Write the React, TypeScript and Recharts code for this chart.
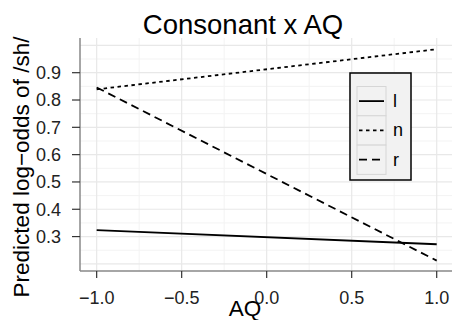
import React from 'react';
import {
  LineChart,
  Line,
  XAxis,
  YAxis,
  ReferenceLine,
  ReferenceArea,
} from 'recharts';

// values
const aqValues = [-1, 1];
const lValues = [0.3235, 0.272];
const nValues = [0.839, 0.986];
const rValues = [0.846, 0.212];

const xTicks = [-1, -0.5, 0, 0.5, 1];
const yTicks = [0.3, 0.4, 0.5, 0.6, 0.7, 0.8, 0.9];
const xMinorGrid = [-0.75, -0.25, 0.25, 0.75];
const yMajorGrid = [0.2, 0.3, 0.4, 0.5, 0.6, 0.7, 0.8, 0.9, 1.0];
const yMinorGrid = [0.25, 0.35, 0.45, 0.55, 0.65, 0.75, 0.85, 0.95];

const series = [
  { key: 'l', dash: undefined as string | undefined },
  { key: 'n', dash: '3.5 3.5' },
  { key: 'r', dash: '8 5' },
];

const data = aqValues.map((aq, i) => ({
  aq,
  l: lValues[i],
  n: nValues[i],
  r: rValues[i],
}));

const FONT = '"Liberation Sans", Arial, Helvetica, sans-serif';

const fmt = (v: number) => v.toFixed(1).replace('-', '\u2212');

// legend drawn as a small overlay, like ggplot's inside legend
const LegendBox = () => (
  <svg width={64} height={110} style={{ position: 'absolute', left: 349, top: 72, pointerEvents: 'none' }}>
    <rect x={1} y={1} width={61} height={107} fill="#f2f2f2" stroke="#000" strokeWidth={1.5} />
    {series.map((s, i) => {
      const top = 14.5 + i * 29.3;
      return (
        <g key={s.key}>
          <rect x={8} y={top} width={29} height={29.3} fill="#f2f2f2" stroke="#d6d6d6" strokeWidth={1} />
          <line
            x1={10}
            x2={35}
            y1={top + 14.6}
            y2={top + 14.6}
            stroke="#000"
            strokeWidth={1.8}
            strokeDasharray={s.dash}
          />
          <text
            x={44}
            y={top + 14.6}
            dominantBaseline="central"
            fontSize={18}
            fontFamily={FONT}
            fill="#000"
          >
            {s.key}
          </text>
        </g>
      );
    })}
  </svg>
);

export default function App() {
  return (
    <div style={{ position: 'absolute', left: 0, top: 0, width: 452, height: 320, background: '#fff', overflow: 'hidden' }}>
      <LineChart
        width={452}
        height={320}
        data={data}
        margin={{ top: 38, right: 0, bottom: 0, left: 0 }}
        style={{ fontFamily: FONT }}
      >
        {xMinorGrid.map((v) => (
          <ReferenceLine key={'xm' + v} x={v} stroke="#f3f3f3" strokeWidth={1} />
        ))}
        {yMinorGrid.map((v) => (
          <ReferenceLine key={'ym' + v} y={v} stroke="#f3f3f3" strokeWidth={1} />
        ))}
        {xTicks.map((v) => (
          <ReferenceLine key={'xM' + v} x={v} stroke="#e8e8e8" strokeWidth={1.2} />
        ))}
        {yMajorGrid.map((v) => (
          <ReferenceLine key={'yM' + v} y={v} stroke="#e8e8e8" strokeWidth={1.2} />
        ))}
        <ReferenceArea fill="none" stroke="#888" strokeWidth={1.5} />
        <XAxis
          dataKey="aq"
          type="number"
          domain={[-1.098, 1.09]}
          ticks={xTicks}
          interval={0}
          tickFormatter={fmt}
          height={49}
          tickSize={7}
          tickMargin={13}
          axisLine={{ stroke: '#888', strokeWidth: 1.5 }}
          tickLine={{ stroke: '#333', strokeWidth: 1.2 }}
          tick={{ fill: '#222', fontSize: 18 }}
          allowDataOverflow
        />
        <YAxis
          type="number"
          domain={[0.174, 1.027]}
          ticks={yTicks}
          interval={0}
          tickFormatter={fmt}
          width={80}
          tickSize={8}
          tickMargin={11}
          axisLine={{ stroke: '#888', strokeWidth: 1.5 }}
          tickLine={{ stroke: '#333', strokeWidth: 1.2 }}
          tick={{ fill: '#222', fontSize: 18 }}
          allowDataOverflow
        />
        {series.map((s) => (
          <Line
            key={s.key}
            dataKey={s.key}
            type="linear"
            stroke="#000"
            strokeWidth={1.8}
            strokeDasharray={s.dash}
            dot={false}
            activeDot={false}
            isAnimationActive={false}
          />
        ))}
      </LineChart>
      <LegendBox />
      <svg
        width={452}
        height={320}
        style={{ position: 'absolute', left: 0, top: 0, pointerEvents: 'none' }}
      >
        <text x={243} y={34} textAnchor="middle" fontSize={27.5} fontFamily={FONT} fill="#000">
          Consonant x AQ
        </text>
        <text x={245} y={316} textAnchor="middle" fontSize={22.5} fontFamily={FONT} fill="#000">
          AQ
        </text>
        <text
          x={29}
          y={167}
          textAnchor="middle"
          fontSize={22.5}
          fontFamily={FONT}
          fill="#000"
          transform="rotate(-90 29 167)"
        >
          Predicted log{'\u2212'}odds of /sh/
        </text>
      </svg>
    </div>
  );
}
